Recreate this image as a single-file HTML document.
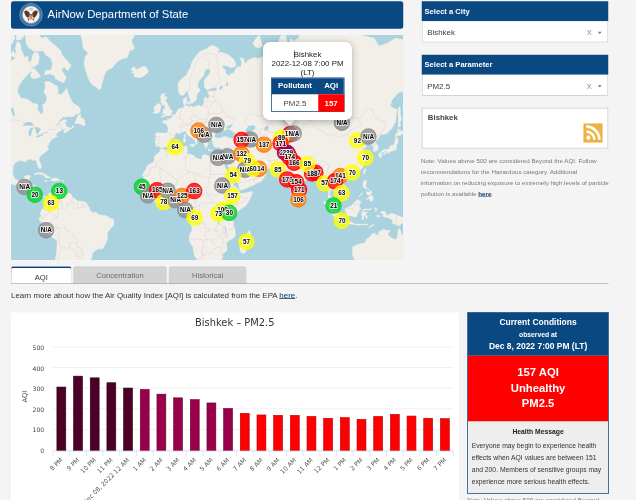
<!DOCTYPE html>
<html lang="en"><head><meta charset="utf-8"><title>AirNow Department of State</title>
<style>html,body{margin:0;padding:0}
html{overflow:hidden}
body{width:636px;height:500px;overflow:hidden;background:#f4f4f4;font-family:"Liberation Sans",Arial,sans-serif;position:relative;color:#333}
#sc{left:0;top:0;width:2544px;height:2000px;transform:scale(0.25);transform-origin:0 0;overflow:hidden}

#pg{left:0;top:0;width:2544px;height:2000px}
div,span,a{position:absolute;white-space:nowrap;box-sizing:border-box}
svg{position:absolute;display:block}
.blue{background:#0a4882;color:#fff}
#hdr{left:44px;top:4.8px;width:1569.2px;height:110.4px;border-radius:10px}
#hdr .seal{left:32.4px;top:6px}
#hdr .t{left:146.4px;top:-4.4px;line-height:109.6px;font-size:45.2px}
#mapbox{left:44px;top:140px;width:1569.2px;height:900px;overflow:hidden}
.map{left:0;top:0}
.sh{left:1686.8px;width:746.4px;height:80px;font-weight:bold;font-size:30.4px;line-height:76.8px;padding-left:11.2px}
.sel{left:1686.8px;width:746.4px;height:85.2px;background:#fff;border:3.2px solid #c4c4c4;border-top:none;border-radius:0 0 8px 8px;font-size:31.6px;line-height:89.6px;color:#3a3a3a;padding-left:19.2px}
.sel .x{left:657.6px;top:0;font-size:30.4px;color:#888}
.sel .c{left:701.2px;top:42.4px;width:0;height:0;border-left:8px solid transparent;border-right:8px solid transparent;border-top:9.6px solid #777}
#city{left:1686.8px;top:431.2px;width:746.4px;height:162.4px;background:#fff;border:3.2px solid #c8c8c8}
#city .n{left:21.6px;top:19.2px;font-size:31.2px;line-height:36px;font-weight:bold;color:#444}
#city .rss{left:643.2px;top:59.2px}
#note{left:1683.6px;top:619.2px;font-size:24.88px;line-height:44.2px;color:#777;white-space:pre}
#note b, a.l{position:static;color:#0a3a6a;text-decoration:underline;font-weight:bold}
.tab{top:1064.8px;height:70.4px;font-size:30.4px;line-height:70.4px;text-align:center;border-radius:10px 10px 0 0}
#t1{left:44px;width:242.4px;background:#fff;border:2.4px solid #888;border-bottom:none;border-top:7.6px solid #0a4078;color:#333}
#t2{left:292.8px;width:374.4px;background:#d3d3d3;color:#6a6a6a}
#t3{left:675.2px;width:310.8px;background:#d3d3d3;color:#6a6a6a}
#tl{left:44px;top:1133.6px;width:2390px;height:2.8px;background:#8a8a8a}
#learn{left:44px;top:1147.6px;font-size:31.64px;line-height:64px;color:#333}
#learn a{position:static;color:#0a3a6a;text-decoration:underline}
.chart{left:44px;top:1248.8px}
#cc{left:1869.2px;top:1248.4px;width:566px;height:727.2px;background:#eee;border:3.2px solid #0a4882}
#cc .h{left:0;top:0;width:100%;height:171.2px;text-align:center;font-weight:bold}
#cc .h span{left:0;width:100%}
#cc .r{left:0;top:171.2px;width:100%;height:262.4px;background:#ff0000;color:#fff;text-align:center;font-weight:bold;font-size:45.2px}
#cc .r span{left:0;width:100%;line-height:64px}
#cc .hm{left:0;top:453.6px;width:100%;text-align:center;font-weight:bold;font-size:27.12px;line-height:40px;color:#222}
#cc .tx{left:14.4px;top:505.6px;font-size:27.12px;line-height:48.4px;color:#333;white-space:pre}
#note2{left:1869.2px;top:1975.6px;font-size:24.88px;line-height:44px;color:#777}

#pop{left:1008px;top:28px;width:356px;height:364px}
#pop .pb{left:0;top:0;width:356px;height:312px;background:#fff;border-radius:27.2px;box-shadow:0 6px 28px rgba(0,0,0,.28)}
#pop .pt{left:88px;top:288px;width:38.4px;height:38.4px;background:#fff;transform:rotate(45deg);box-shadow:0 6px 28px rgba(0,0,0,.4)}
#pop span{left:0;width:356px;text-align:center;font-size:31.6px;line-height:36px;color:#222}
#pop .cur{position:absolute;left:124.8px;top:34.4px;width:2.4px;height:32.8px;background:#111}
#pop .p1{top:31.2px}#pop .p2{top:68px}#pop .p3{top:101.2px}
#pop .tb{left:32px;top:142.4px;width:293.6px;height:136.8px;border:3.2px solid #0a4882;background:#fff}
#pop .tb div{font-size:31.6px;text-align:center}
#pop .th0{left:0;top:0;width:100%;height:64px}
#pop .th1{left:0;top:0;width:185.6px;height:64px;line-height:57.6px;font-weight:bold;color:#fff}
#pop .th2{left:185.6px;top:0;width:104px;height:64px;line-height:57.6px;font-weight:bold;color:#fff}
#pop .td1{left:0;top:64px;width:185.6px;height:69.6px;line-height:69.6px;color:#444}
#pop .td2{left:185.6px;top:64px;width:104px;height:69.6px;line-height:69.6px;background:#ff0000;color:#fff;font-weight:bold}
</style></head><body><div id="sc"><div id="pg">
<div id="hdr" class="blue"><svg class="seal" width="96" height="96" viewBox="-12 -12 24 24">
<circle r="11.3" fill="#3a6c9c" stroke="#6f9cc4" stroke-width="0.8"/>
<circle r="9.1" fill="none" stroke="#7aa3c8" stroke-width="0.7"/>
<circle r="8.5" fill="#f6f2ec"/>
<path d="M-1.2,-1.5C-3,-4.5 -5.5,-5 -6.8,-3.2C-6.5,-0.5 -5.2,2 -3,3.2L-1.4,1.2Z M1.2,-1.5C3,-4.5 5.5,-5 6.8,-3.2C6.5,-0.5 5.2,2 3,3.2L1.4,1.2Z" fill="#5b3a1e"/>
<path d="M-1.6,-0.5h3.2v3.2c0,1.2 -0.8,2 -1.6,2.4c-0.8,-0.4 -1.6,-1.2 -1.6,-2.4Z" fill="#d98b7a"/>
<path d="M-1.6,-0.5h3.2v1.1h-3.2Z" fill="#3a5a8c"/>
<path d="M-3.4,3.4L-1.2,4.2L-2.6,6.2Z M3.4,3.4L1.2,4.2L2.6,6.2Z" fill="#7a5a3a"/>
<ellipse cx="0" cy="-3" rx="1.3" ry="1.5" fill="#fff"/>
<ellipse cx="0" cy="-5.6" rx="2.4" ry="1.5" fill="#c9cfd8"/>
</svg><span class="t">AirNow Department of State</span></div>
<div id="mapbox"><svg class="map" width="1569.2" height="900" viewBox="0 0 392.3 225">
<defs><filter id="bl" x="-5%" y="-5%" width="110%" height="110%"><feGaussianBlur stdDeviation="0.45"/></filter><filter id="bl2" x="-5%" y="-5%" width="110%" height="110%"><feGaussianBlur stdDeviation="0.4"/></filter></defs>
<rect width="392.3" height="225" fill="#aad3df"/>
<g filter="url(#bl)">
<path d="M-50.0,69.4L-42.0,47.7L-25.9,22.6L-17.9,24.8L-14.7,23.5L-9.8,22.2L-5.0,25.6L1.4,25.6L3.8,23.5L5.4,18.1L4.1,13.4L6.2,6.4L9.5,8.5L10.3,15.8L11.9,18.1L13.5,22.6L16.7,20.9L17.5,26.9L19.9,26.9L21.5,20.4L23.9,16.7L27.1,18.1L28.3,22.6L27.1,29.0L23.1,31.8L20.7,32.2L19.1,36.9L15.9,40.6L13.2,43.2L11.1,46.0L7.8,51.1L6.7,54.4L7.0,58.2L10.3,63.6L14.3,63.6L17.5,65.1L22.3,68.5L26.7,69.1L26.8,74.8L28.8,77.5L29.6,79.3L31.2,78.8L32.3,76.2L32.0,72.1L31.2,70.2L34.4,67.9L36.0,63.6L34.4,59.1L32.8,57.5L34.4,52.7L33.6,46.7L37.6,46.7L40.8,47.7L43.2,50.1L46.4,51.1L47.2,56.0L46.4,58.5L50.5,59.7L53.7,56.0L55.3,53.1L57.7,59.1L60.1,65.1L62.5,68.5L66.5,70.8L69.3,73.5L69.4,76.9L67.7,78.8L64.9,79.3L62.5,81.8L57.7,81.8L52.1,82.1L48.9,85.1L46.4,88.7L44.5,90.3L46.4,89.9L49.7,86.3L52.9,84.6L55.3,85.1L55.6,86.8L53.7,87.5L54.8,89.2L55.3,91.5L56.9,92.2L59.3,92.7L60.9,93.1L62.0,89.9L62.8,92.2L60.4,93.8L57.7,95.2L55.3,97.2L52.9,97.9L52.9,95.6L55.3,93.8L53.7,93.8L51.3,94.5L49.7,95.9L46.4,97.4L45.2,99.4L45.5,101.2L46.4,101.6L44.0,102.4L40.8,103.3L43.2,103.5L40.0,104.4L39.7,106.5L38.4,107.7L37.6,106.7L38.1,108.9L36.8,111.2L36.3,108.5L36.0,111.0L36.8,112.0L37.4,114.6L36.0,115.9L33.9,117.5L32.0,118.7L29.6,120.8L28.3,122.8L28.1,124.7L29.4,128.0L30.4,130.9L29.9,133.6L28.6,134.0L27.5,132.2L26.0,129.1L26.0,126.9L24.2,125.1L22.3,125.6L20.7,124.3L17.5,124.5L15.4,124.7L15.4,126.8L13.5,126.6L11.1,125.8L7.8,125.8L5.8,127.1L3.0,129.1L2.5,132.4L1.9,135.9L1.7,138.9L2.7,141.5L4.1,144.1L6.2,145.3L7.8,145.9L11.1,145.3L13.2,144.1L13.6,141.5L15.9,140.5L18.6,140.3L19.4,141.1L18.3,143.7L17.8,145.8L17.2,147.1L16.2,149.6L17.5,150.0L20.7,149.8L23.1,150.0L25.1,151.3L24.7,154.6L24.4,157.1L24.7,158.7L26.3,160.7L27.9,161.5L30.4,160.8L32.0,160.4L34.4,161.7L35.2,162.8L34.4,163.6L33.1,162.3L31.2,161.3L29.9,162.5L29.9,163.8L27.9,163.3L25.9,162.5L24.4,161.8L22.3,159.5L21.0,158.1L19.1,155.4L18.0,154.3L15.1,153.8L11.9,153.0L9.5,150.5L7.0,149.3L4.6,150.1L1.4,149.3L-1.8,148.0L-5.0,146.3L-8.2,144.6L-10.6,142.0L-17.9,137.7L-25.9,125.1L-34.0,115.6L-42.0,87.5Z M88.2,54.7L85.0,51.8L81.0,49.4L78.6,46.0L76.2,40.6L74.6,35.0L73.0,29.0L73.8,22.6L77.0,18.1L72.2,13.4L71.4,5.9L69.0,-2.2L65.7,-14.3L59.3,-18.9L49.7,-17.5L43.2,-31.9L52.9,-48.8L62.5,-69.4L86.6,-81.7L110.8,-88.6L126.8,-69.4L130.1,-48.8L128.4,-31.9L126.8,-17.5L126.8,-8.0L123.6,0.6L120.4,5.9L123.6,13.4L118.8,15.8L116.4,22.6L110.8,23.9L105.9,26.9L101.1,33.0L96.3,35.0L93.9,38.8L92.3,44.2L90.7,49.4L89.9,53.4Z M119.6,35.0L122.8,31.4L125.2,35.0L130.1,32.2L133.3,31.0L135.7,33.0L137.3,36.9L134.9,39.5L130.1,42.5L126.0,42.5L122.8,41.0L123.6,38.8L120.4,37.3L123.6,35.8Z M60.1,30.2L56.9,36.1L52.9,31.8L50.5,35.0L55.3,42.5L52.9,47.7L48.9,46.0L44.8,44.2L43.2,40.6L38.4,38.8L33.6,39.9L34.4,35.8L40.0,35.0L41.6,29.0L40.0,23.5L35.2,20.4L32.0,15.8L27.1,16.3L22.3,15.8L17.5,12.5L15.1,8.5L14.3,0.6L17.5,-3.9L22.3,-3.4L27.1,-3.4L30.4,3.3L35.2,1.7L40.0,7.5L44.8,11.0L49.7,15.8L51.3,20.4L56.1,25.6Z M19.1,35.0L23.1,33.0L27.9,38.8L29.6,41.7L25.5,43.2L21.5,43.5L19.1,40.6L20.7,37.7Z M5.4,4.9L9.5,4.9L13.5,0.6L14.3,-6.3L5.4,-6.3Z M-5.0,8.5L1.4,8.5L3.8,3.3L2.2,-3.9L-5.0,-3.9Z M-1.0,20.4L3.0,22.2L5.4,19.5L2.2,15.8Z M4.6,-8.7L30.4,-8.7L30.4,-20.9L4.6,-20.9Z M63.6,88.2L65.7,83.8L67.3,80.1L69.4,78.8L69.8,82.6L73.0,84.3L73.8,87.5L74.3,89.9L73.0,90.6L70.6,89.9L69.0,88.7Z M22.3,139.6L25.5,137.7L29.6,137.5L33.6,138.9L37.6,141.5L39.7,142.5L38.4,143.0L34.4,143.0L34.4,141.8L32.0,140.1L27.9,139.1L24.7,139.4Z M39.4,145.4L41.6,143.0L44.0,143.0L46.6,143.5L49.0,145.3L48.0,145.8L44.8,145.9L43.7,146.6L42.4,145.9Z M33.1,145.8L35.2,145.4L36.5,146.3L34.9,146.6Z M50.9,145.4L53.5,145.6L53.2,146.3L50.9,146.3Z M34.7,162.0L35.5,162.8L36.8,160.7L37.6,158.7L38.7,157.9L40.8,157.4L42.7,156.4L44.0,155.6L44.3,157.1L43.4,157.9L44.0,159.5L44.8,160.4L44.8,157.9L46.4,157.1L46.4,155.9L48.9,157.4L49.7,158.7L52.9,158.6L55.3,159.2L57.7,158.4L59.3,158.6L60.9,159.9L60.9,162.0L63.3,162.8L64.9,164.7L67.3,166.2L70.6,166.2L73.8,166.8L75.9,168.5L77.0,170.9L78.6,172.8L78.6,174.9L80.2,176.0L81.3,177.8L85.0,177.3L87.4,179.4L91.5,180.2L94.7,180.4L97.1,181.7L99.5,183.4L102.2,184.1L102.9,187.0L102.7,190.2L100.3,192.7L98.7,195.1L96.8,196.8L96.3,200.1L96.3,204.3L95.0,207.7L93.4,211.1L91.5,213.7L88.2,213.7L84.5,215.5L81.8,218.1L80.9,220.8L80.5,223.5L78.6,226.3L76.2,229.7L73.8,233.3L72.2,235.1L67.3,237.8L54.5,250.2L43.2,250.2L44.0,232.0L44.0,226.3L45.6,217.2L46.1,208.5L45.8,205.6L43.2,203.4L38.4,200.9L36.3,198.1L34.9,195.1L32.8,191.0L30.7,187.0L28.4,185.4L28.3,182.9L29.9,181.2L30.4,179.7L28.9,179.2L29.6,177.3L30.4,174.9L32.0,173.8L32.8,171.7L34.4,169.6L34.5,166.8L34.4,164.4L33.7,163.9Z M149.5,114.0L150.5,113.8L154.2,115.0L155.8,115.4L159.0,114.0L161.4,112.6L163.8,112.0L167.0,112.0L170.3,111.6L173.5,111.2L175.4,111.2L176.7,111.6L176.0,112.8L175.9,114.6L176.7,116.5L175.4,117.5L176.4,118.3L177.5,119.0L179.9,119.6L183.1,120.6L183.9,122.3L187.1,123.4L189.6,124.5L191.2,123.2L191.2,120.8L193.6,119.6L196.0,120.2L199.2,121.9L202.4,122.7L205.6,123.4L208.0,122.5L210.5,122.7L211.3,123.2L211.3,125.1L211.4,126.0L212.1,128.2L213.4,130.2L214.5,132.7L216.1,135.9L216.4,137.7L218.2,139.4L218.8,141.1L219.0,144.6L220.9,146.3L222.2,149.6L223.3,151.3L225.2,152.1L227.3,154.6L228.6,155.4L228.5,157.1L229.8,158.7L233.0,158.2L236.2,157.6L239.4,156.8L241.5,156.4L241.2,158.7L240.2,161.2L238.6,164.4L237.0,167.6L234.6,170.9L232.2,172.5L229.8,174.1L227.3,176.5L225.7,178.6L223.6,180.5L222.5,182.9L221.7,185.4L222.5,187.8L222.5,191.0L224.1,193.5L224.1,196.8L224.6,200.1L223.3,202.3L220.9,204.0L218.5,205.1L216.9,206.8L215.0,208.5L215.8,212.0L216.1,215.5L212.9,217.8L211.7,219.0L211.9,221.7L211.1,224.1L208.8,226.3L207.2,229.1L204.8,231.6L202.4,233.3L200.3,233.9L195.2,234.1L191.2,235.5L188.7,234.3L188.4,231.6L188.3,229.7L186.8,227.2L185.5,223.7L183.4,220.8L182.3,215.5L182.3,212.8L180.7,210.3L178.3,206.0L178.0,203.4L178.6,200.1L180.7,196.0L181.2,193.5L179.9,190.2L178.8,185.4L178.3,183.8L176.7,181.8L174.0,178.9L173.2,176.8L174.3,174.9L174.6,172.5L174.8,170.1L173.3,168.5L170.3,168.6L168.6,168.8L167.0,166.4L166.2,165.5L163.0,165.5L160.6,166.2L157.4,167.3L155.8,168.0L154.2,167.5L151.8,167.3L149.4,168.0L146.9,168.6L144.5,167.6L141.6,165.4L140.5,164.4L138.9,163.6L137.8,162.0L137.0,160.4L135.4,158.7L134.9,157.9L133.3,156.3L132.1,155.4L132.0,153.8L130.9,151.8L132.5,149.6L132.8,147.1L133.3,144.6L132.5,143.7L133.0,142.0L131.7,141.1L131.8,139.4L133.3,136.5L134.9,134.2L135.7,132.0L137.6,129.3L139.7,128.8L142.1,126.9L143.4,125.1L143.2,122.3L144.5,120.0L146.9,118.3L148.5,116.9Z M238.3,195.1L240.2,200.9L239.1,203.4L238.3,206.0L237.0,210.3L235.4,215.5L234.6,217.6L231.8,218.3L229.8,217.2L228.6,212.8L230.2,208.5L229.8,204.3L231.4,201.8L233.8,200.9L235.9,199.3L237.0,197.3Z M211.3,123.2L214.0,122.7L214.8,121.3L215.3,119.4L216.2,116.5L216.7,114.6L217.2,112.4L216.1,112.4L214.5,112.2L212.9,113.4L210.5,113.4L208.2,113.0L207.9,112.0L205.6,112.6L204.0,112.2L202.9,111.6L202.4,109.6L201.3,108.5L202.1,106.9L201.1,106.5L201.1,105.0L200.8,103.9L199.2,103.5L197.6,103.9L197.3,105.4L196.0,104.8L195.5,104.4L195.5,106.5L196.3,107.5L197.6,109.1L196.8,110.0L196.0,110.8L196.3,112.6L195.2,112.6L193.9,112.0L193.3,110.0L192.8,108.5L192.0,106.5L190.4,104.4L190.4,101.8L188.7,100.1L186.3,98.5L183.9,96.8L182.3,94.0L181.0,94.3L180.9,92.9L179.1,93.6L178.8,95.6L180.7,97.6L181.5,100.1L183.9,101.2L184.7,101.8L187.9,104.1L188.7,105.2L187.9,105.6L186.3,104.4L185.5,106.0L186.5,107.5L185.5,108.7L184.7,109.8L184.2,109.1L184.7,107.5L183.9,105.4L182.3,103.9L180.7,102.7L178.8,101.6L176.7,100.1L175.6,97.9L174.8,96.5L173.2,95.9L171.9,97.0L170.7,97.4L168.6,98.7L167.0,98.1L165.4,97.9L164.1,98.7L164.1,101.2L162.5,102.4L160.3,103.7L158.7,106.0L159.2,107.9L158.2,108.9L157.7,110.4L155.8,112.0L151.8,112.2L150.5,113.4L148.9,112.2L147.7,111.2L144.8,111.6L144.8,108.5L143.9,107.9L144.8,104.4L144.8,101.2L144.2,99.0L146.1,97.4L149.4,97.9L152.6,98.1L155.8,98.1L156.9,95.6L157.2,92.9L155.8,89.9L154.2,88.4L151.8,87.7L151.4,86.3L154.2,85.5L156.4,86.0L156.6,83.6L158.5,84.3L159.3,83.6L161.4,82.1L161.9,80.1L164.3,79.0L165.8,76.9L166.7,74.8L168.6,73.8L170.6,73.2L172.7,72.7L173.2,70.8L172.3,67.9L172.2,64.5L174.3,63.0L175.9,61.5L175.6,65.1L176.4,66.5L175.1,68.5L174.8,69.9L176.4,71.3L176.7,72.1L178.3,71.6L180.7,71.0L182.0,72.1L184.7,71.3L187.9,69.9L189.2,71.0L190.8,71.0L192.8,68.8L192.8,64.2L194.4,61.8L196.8,63.6L198.1,63.0L198.1,59.7L196.8,58.2L196.8,56.6L199.2,56.0L204.0,56.0L206.4,54.4L204.8,52.7L200.8,53.1L197.6,54.4L195.7,54.7L193.6,52.4L193.3,48.4L193.3,45.0L195.2,42.5L198.4,38.8L199.7,35.8L197.6,33.8L194.7,34.2L193.6,36.9L192.8,40.6L190.4,43.2L187.9,46.0L186.8,49.4L186.7,52.1L189.2,54.4L188.3,56.6L185.9,59.1L185.5,63.6L184.7,65.9L182.3,66.5L181.8,68.2L179.9,68.2L179.6,65.9L178.3,62.7L177.2,59.1L176.7,57.5L175.9,56.0L174.3,57.5L172.7,60.0L170.3,60.6L168.2,58.5L167.4,54.4L167.0,49.4L167.8,46.7L170.3,44.2L172.7,42.1L175.1,40.6L176.7,36.9L179.1,33.0L180.7,27.8L183.1,23.5L185.5,20.4L188.7,16.7L192.0,15.3L196.0,13.4L200.3,10.5L204.0,11.0L207.2,13.4L208.8,14.9L205.6,16.7L208.8,17.2L212.1,18.1L216.9,19.5L223.3,24.8L224.9,29.0L224.1,31.8L220.1,32.6L215.3,31.0L212.1,30.2L211.3,32.2L214.5,35.0L215.0,38.8L218.5,41.0L219.3,38.8L222.5,38.4L224.1,35.0L226.5,31.4L229.8,32.2L230.6,26.9L228.9,22.6L233.0,23.9L233.8,29.0L236.2,26.1L239.4,23.9L244.2,22.6L246.6,23.5L250.7,22.2L255.5,21.7L257.1,16.7L261.9,19.1L266.7,21.3L269.1,23.5L270.0,20.4L266.7,15.8L266.7,8.5L270.0,0.6L274.8,0.6L276.4,8.5L275.9,15.8L275.6,22.6L277.2,26.9L274.8,31.8L278.0,29.8L279.6,24.8L278.0,20.4L277.5,11.0L279.6,3.3L282.8,5.9L287.6,3.3L289.2,-2.8L297.3,-5.1L303.7,-14.3L319.8,-20.9L327.8,-28.1L340.7,-17.5L335.9,-5.1L340.7,-3.4L352.0,0.6L363.2,3.3L368.0,11.0L376.1,8.5L384.1,3.3L400.2,5.9L424.3,33.0L416.3,54.4L408.2,56.6L399.4,56.6L392.2,56.6L387.3,57.5L384.1,61.5L380.9,65.1L379.3,71.3L381.7,72.7L384.1,74.0L386.2,74.8L385.7,77.5L384.9,81.3L384.9,86.3L382.5,89.9L380.9,93.4L378.5,96.1L376.1,98.3L372.9,99.6L370.5,99.0L369.2,100.5L367.7,102.2L367.2,103.9L364.8,105.4L364.0,106.9L365.6,108.9L367.1,111.6L367.2,114.0L366.4,115.4L364.5,115.9L362.4,116.7L362.3,114.6L362.6,112.0L361.6,110.2L360.0,110.0L360.3,108.1L359.2,105.8L356.8,106.0L354.4,107.7L355.2,104.6L353.6,103.5L351.2,105.8L348.7,107.1L348.3,108.5L350.4,111.0L353.2,110.0L356.0,110.8L355.2,112.0L352.8,113.2L350.8,115.6L352.4,117.5L353.6,120.4L355.0,122.3L354.1,124.2L355.2,125.1L354.5,127.9L352.8,130.2L351.3,132.9L349.5,134.9L347.6,136.6L345.5,137.9L342.8,138.7L341.5,139.1L339.1,139.9L336.7,140.6L336.4,142.4L335.6,140.3L333.5,139.9L331.1,141.1L329.4,143.7L329.0,145.4L331.1,148.0L333.1,149.6L334.6,153.0L334.8,155.4L334.3,157.1L331.9,158.7L330.7,159.5L330.3,160.7L327.8,161.7L327.5,159.5L326.2,158.7L324.6,157.4L323.5,155.8L321.4,155.1L321.2,154.0L319.8,154.0L319.8,156.3L318.7,158.7L319.0,160.7L320.3,162.3L321.4,164.6L323.0,165.7L324.6,167.6L325.4,169.3L325.4,171.4L326.6,173.4L325.4,173.6L323.8,172.3L321.9,171.0L320.8,169.3L320.3,166.8L319.3,164.7L317.7,162.8L317.1,161.2L317.5,158.7L317.4,156.3L316.6,153.0L316.1,150.5L315.8,148.6L314.2,148.5L312.2,150.0L310.6,149.3L311.0,146.3L309.7,143.7L307.7,141.7L306.9,139.4L306.1,138.2L304.5,139.1L302.9,139.8L301.3,139.9L298.9,140.5L298.6,142.0L296.5,143.4L294.9,144.9L292.5,147.1L291.2,148.6L289.2,149.6L288.1,150.5L287.8,153.8L287.5,156.3L287.3,159.0L286.0,160.7L284.9,161.2L283.6,162.6L282.0,161.2L281.2,158.7L279.9,156.3L279.1,153.8L278.5,151.3L277.2,148.8L276.4,146.3L276.1,143.7L276.1,141.1L275.1,140.8L273.2,141.5L270.8,139.4L272.0,137.7L269.1,136.8L267.5,135.0L266.3,133.8L261.9,133.6L257.9,133.8L253.9,133.4L251.1,132.7L250.3,130.6L247.4,131.1L245.0,130.9L241.8,129.0L240.2,126.4L238.6,124.7L237.0,125.1L236.2,126.0L237.0,127.9L238.1,129.7L239.4,131.1L239.7,132.9L240.7,134.2L241.3,132.4L242.0,133.8L241.5,135.4L243.4,135.6L245.8,135.6L248.2,133.6L249.5,131.8L249.9,134.2L250.7,135.9L253.1,136.5L255.2,138.6L254.7,140.3L253.1,142.0L251.9,144.6L250.7,146.3L248.2,147.4L245.8,148.0L242.9,150.0L239.4,151.3L236.2,153.0L233.0,154.0L231.4,154.9L228.9,155.1L228.5,154.1L227.8,151.6L227.7,149.0L225.7,146.3L224.1,143.7L222.0,141.1L221.4,138.6L219.3,135.6L218.5,133.3L216.9,131.1L215.3,128.8L215.0,126.0L214.2,129.1L212.9,127.9L212.1,126.4L211.4,125.1Z M149.8,82.3L152.6,81.8L154.2,80.8L157.4,80.8L160.6,80.1L161.3,79.3L160.1,78.8L161.7,75.9L159.5,74.8L159.0,73.2L157.1,70.5L156.4,67.9L155.0,66.5L153.9,66.5L155.8,63.6L155.8,61.5L152.6,61.8L154.2,58.8L151.0,58.8L149.4,62.1L150.2,65.1L149.4,66.5L151.0,68.5L151.3,70.2L153.7,69.6L154.2,72.7L154.0,74.0L151.8,74.0L152.2,76.7L150.6,78.0L153.4,78.8L154.2,79.5L151.8,80.1Z M142.9,78.5L146.1,78.3L148.9,76.9L149.4,74.0L150.2,70.8L148.5,68.8L146.1,68.8L145.3,71.0L142.9,71.6L143.2,74.0L144.0,75.9L142.4,77.5Z M176.7,67.4L179.1,66.5L179.1,68.5L178.0,69.9L176.7,68.8Z M241.8,8.5L244.2,12.0L248.2,13.0L251.5,11.0L249.0,3.3L249.0,-5.1L253.9,-14.3L263.5,-20.9L268.3,-24.4L265.1,-17.5L257.1,-11.1L252.3,-2.2L248.2,0.6L245.0,3.3Z M179.1,109.6L183.9,109.1L183.4,111.6L182.0,112.0L179.1,110.4Z M172.2,103.3L174.6,103.3L174.4,107.1L172.7,107.5Z M172.8,100.1L174.3,99.0L174.3,102.2L173.2,102.2Z M196.8,114.4L201.3,115.0L201.1,115.6L197.6,115.7Z M210.9,115.6L212.1,114.8L214.5,114.4L213.7,115.6L212.1,116.3Z M369.5,117.5L370.5,116.1L372.9,114.6L376.9,114.4L378.8,112.0L379.8,110.6L381.7,110.8L383.3,108.5L384.1,105.4L384.6,102.9L386.4,102.4L387.2,105.4L386.9,107.9L385.7,109.6L385.7,111.6L385.2,113.6L384.6,115.2L383.8,115.6L383.6,114.6L382.2,116.1L380.1,116.3L379.0,116.9L377.4,118.5L376.2,116.9L374.5,116.3L372.1,117.1L369.6,117.7Z M367.6,118.9L369.5,117.7L370.8,119.0L370.5,121.7L369.2,123.0L368.4,121.3Z M372.1,118.5L374.5,116.9L375.6,117.9L374.0,118.9L372.9,119.8Z M384.1,102.2L384.6,98.5L386.5,98.3L387.0,93.6L388.9,95.6L392.6,96.3L393.0,98.3L389.7,99.2L389.3,101.2L386.5,100.1L385.7,101.6Z M387.3,92.2L389.7,91.0L388.9,87.5L390.6,83.8L389.3,80.1L389.4,74.8L388.5,71.3L387.3,73.5L387.0,78.8L387.3,83.8L387.3,87.5Z M352.1,137.7L353.6,133.8L355.0,134.2L354.4,136.8L353.2,139.4Z M333.8,144.1L335.9,142.7L337.5,143.4L336.4,145.4L334.3,145.8Z M287.3,160.2L289.2,161.5L290.5,163.6L290.1,165.4L288.1,166.0L287.3,164.4Z M352.8,145.4L355.5,145.4L355.2,148.8L354.4,151.3L356.0,153.0L358.4,154.6L357.6,155.1L356.0,153.5L353.6,153.5L352.8,152.1L352.0,151.3L352.0,149.3Z M355.2,164.4L357.6,162.0L360.8,160.0L362.4,162.8L361.9,165.2L360.8,166.5L359.2,165.7L358.4,163.6Z M355.2,156.6L357.6,157.1L360.0,155.4L360.8,157.9L360.0,159.5L357.6,160.4L356.0,159.5Z M347.5,162.0L351.2,158.7L351.5,157.4L349.5,159.5Z M312.2,166.7L315.8,167.3L318.2,169.7L320.6,172.2L323.0,174.1L325.4,175.7L326.2,177.6L327.8,179.7L329.4,181.0L329.1,185.0L327.0,185.0L323.8,182.6L321.4,179.7L319.8,177.3L318.2,174.9L316.6,172.0L314.2,169.6Z M328.2,186.7L330.3,185.4L333.5,186.5L336.7,186.7L338.3,186.5L340.7,187.0L343.1,188.3L343.1,189.6L339.1,189.1L334.3,188.3L331.9,188.1L330.1,187.6Z M334.3,173.3L335.9,173.0L338.0,171.7L340.7,170.4L343.1,168.1L345.5,165.2L347.1,164.4L348.3,166.0L350.4,167.3L348.7,168.8L348.3,170.9L348.7,172.5L350.4,174.1L348.4,174.6L347.9,177.0L346.3,178.1L346.0,180.5L345.5,182.1L343.1,182.1L340.7,181.0L338.3,180.8L336.2,180.2L335.9,178.1L334.3,176.2Z M351.2,184.6L351.2,181.3L350.4,180.0L351.6,176.0L352.8,174.1L355.2,174.1L358.4,174.1L360.3,173.1L359.2,174.9L356.8,174.9L353.6,174.9L352.3,177.0L354.1,177.3L356.8,177.0L354.7,178.6L356.0,181.0L356.8,182.9L355.2,183.3L354.4,181.3L353.6,180.0L352.6,181.3L352.6,184.6Z M369.6,177.0L372.1,176.3L374.5,177.0L376.1,181.0L378.5,179.2L380.9,178.3L385.7,179.9L388.9,181.2L392.2,182.8L393.8,184.6L396.2,185.4L396.5,187.8L398.6,190.2L401.0,192.7L397.0,191.9L394.6,190.2L392.2,188.3L389.7,189.1L388.9,190.6L385.7,190.4L383.3,188.6L380.9,189.1L382.0,187.0L380.9,184.6L377.7,183.1L374.5,182.1L372.9,182.0L371.3,180.4L373.7,179.6L371.7,178.9L369.6,177.8Z M357.6,192.4L360.0,190.6L363.2,189.3L362.4,190.6L359.2,192.2Z M343.9,188.9L347.1,189.1L350.4,189.3L353.6,189.3L356.8,189.1L356.5,189.9L352.0,190.1L347.1,190.2L344.2,189.7Z M364.0,173.3L364.8,172.5L365.9,174.1L364.8,177.0L364.2,174.9Z M364.8,180.5L368.8,180.5L369.3,181.7L365.6,181.5Z M341.5,212.0L342.3,211.6L345.5,209.9L348.7,209.0L351.2,208.5L353.6,207.9L355.5,205.1L355.7,203.4L357.6,204.0L357.9,202.3L360.0,200.6L361.6,198.4L364.0,198.4L365.6,199.9L367.6,199.9L367.2,197.6L368.8,196.0L370.5,195.5L372.1,194.3L373.7,194.8L376.1,195.5L378.5,195.1L379.0,196.0L377.7,197.6L376.9,199.8L378.5,201.4L380.9,202.9L383.3,204.3L385.2,204.3L386.5,200.9L386.9,197.6L387.3,195.1L388.1,193.2L389.7,196.0L390.1,198.9L392.5,200.1L393.3,203.1L394.1,206.5L396.2,207.5L398.6,209.4L399.4,212.0L401.5,213.7L403.4,216.4L405.0,219.0L405.8,223.5L405.0,228.2L404.2,232.0L401.8,233.9L400.2,239.8L392.2,242.9L384.1,241.8L380.9,236.8L380.1,232.9L377.7,235.5L376.1,234.9L374.5,231.4L371.3,230.1L368.0,229.3L363.2,230.4L360.0,231.2L358.4,232.9L353.6,233.5L349.5,235.5L345.5,235.5L343.9,233.9L344.7,230.1L344.2,226.3L343.1,223.5L341.5,219.9L341.5,216.4Z" fill="#f2efe9" stroke="#f2efe9" stroke-width="0.4" stroke-linejoin="round"/>
<path d="M204.0,102.2L205.6,102.9L209.7,102.9L212.5,101.2L215.3,101.2L217.7,102.7L220.1,103.3L223.3,103.3L225.9,102.0L225.7,100.1L223.3,98.1L220.9,96.1L219.0,95.0L217.9,94.0L216.1,94.5L213.2,95.9L212.9,94.3L211.3,93.6L212.9,92.2L210.5,91.0L208.5,91.0L206.9,93.4L205.3,95.6L204.8,98.1L203.7,100.1Z M215.3,92.9L215.8,91.3L218.5,90.3L220.6,89.6L222.0,89.9L220.4,91.5L219.6,92.9L218.2,93.6L216.1,93.6Z M234.6,95.6L235.4,93.4L237.8,91.0L241.0,90.3L244.2,91.0L244.2,93.8L241.5,95.6L239.9,96.1L241.0,99.0L243.4,100.1L243.7,102.2L245.0,103.7L244.2,106.5L245.5,108.5L245.5,111.0L242.6,112.2L239.9,111.2L237.8,110.0L237.5,107.5L238.6,104.8L237.0,101.6L235.4,99.0Z M11.1,90.6L14.3,88.0L17.5,86.8L20.7,87.5L22.8,90.3L20.7,91.0L17.5,90.3L14.3,90.8Z M18.0,101.2L17.5,96.8L19.1,93.4L21.5,92.2L22.3,93.4L20.7,96.8L20.2,100.1L19.1,101.8Z M23.1,92.2L27.1,92.2L30.4,94.5L28.8,95.6L27.6,98.5L26.3,99.0L24.7,96.8L24.7,94.5L23.1,92.7Z M25.1,101.8L28.8,99.6L32.0,99.4L32.0,100.1L27.9,102.2L25.1,102.2Z M30.7,98.3L35.2,97.2L36.3,96.8L36.3,97.9L33.6,98.3L30.7,98.5Z M-0.2,72.7L2.2,72.7L4.1,80.1L3.0,81.8L0.6,77.5Z M210.1,177.3L211.3,175.4L213.7,175.4L214.0,177.3L212.9,179.7L210.5,179.7Z M206.0,181.2L206.9,182.9L208.5,189.1L207.7,189.4L206.1,185.4L205.6,182.1Z M213.7,191.0L214.6,193.5L215.3,198.4L214.5,198.8L214.0,195.1L213.4,191.9Z M253.1,95.0L253.9,92.2L256.3,90.6L257.6,92.2L257.1,94.5L255.5,96.1Z M325.9,78.8L327.8,78.5L332.7,74.0L335.6,67.9L334.3,67.4L331.1,72.7Z M208.0,54.4L209.7,50.4L211.7,51.1L211.3,53.7L209.7,54.7Z M214.5,51.1L216.1,46.7L217.2,48.4L216.6,51.1Z" fill="#aad3df"/>
<path d="M145.0,129.3L145.0,127.5L153.2,121.9L157.1,121.1L156.1,116.5L155.5,115.4 M131.7,141.1L138.1,140.6L138.1,137.7L139.7,136.8L139.7,132.4L145.0,132.4L145.0,129.3 M145.0,130.0L151.3,134.2L160.9,141.0L164.1,143.7L165.8,144.4L165.8,148.8L164.6,150.6L159.3,151.3L155.8,152.6L153.7,154.1L152.1,155.1L150.2,158.9L146.1,159.2L145.7,157.4L140.7,155.9L139.4,151.6L135.7,148.6L132.5,149.6 M151.3,134.2L148.5,134.2L150.0,148.8L150.5,150.5L144.0,150.5L140.5,150.3L139.4,151.6 M172.8,111.8L172.2,116.5L171.1,117.9L173.5,121.3L174.3,124.5L174.9,130.6L174.3,131.8L175.1,135.0L178.3,136.8 M177.5,119.0L175.6,121.9L174.3,124.5 M178.3,136.8L171.1,141.5L165.8,144.4 M178.3,136.8L181.8,138.4L183.1,137.7L197.6,143.7L197.6,142.9L199.2,142.9L199.2,139.4 M199.2,122.1L199.2,139.4L218.3,139.4 M183.1,137.7L183.9,141.1L183.9,148.3L180.7,152.1L180.9,153.5 M164.8,156.8L165.4,153.8L170.3,154.6L173.5,154.9L178.3,154.3L180.9,153.5L181.8,155.4 M197.6,143.7L197.6,150.1L195.2,153.0L194.9,155.1L195.8,157.9 M195.8,157.9L192.8,160.4L189.6,161.2L186.3,163.3L183.9,163.6 M181.8,155.4L183.1,159.5L181.5,159.5L183.9,163.6 M181.8,155.4L179.9,159.5L178.0,164.4L175.1,165.2L172.8,168.0 M174.8,172.0L180.4,172.2L184.7,173.0L185.0,172.2L183.9,163.6 M185.0,172.2L188.9,170.1L188.7,168.8L190.4,167.6L195.2,168.9L199.2,167.6L203.1,167.5 M195.8,157.9L197.1,161.7L199.2,163.3L203.1,167.5 M197.1,161.7L199.2,159.0L204.0,160.4L207.2,159.5L210.5,156.3L212.1,155.9L212.1,159.2L213.7,160.4 M221.1,146.3L218.5,148.0L217.7,151.3L217.5,152.1L217.0,155.1L215.3,157.9L214.2,158.7L213.7,160.4L213.5,162.1L212.1,162.8L213.7,164.4L215.3,166.8 M217.5,152.1L220.1,151.8L223.3,152.1L226.1,154.6L227.2,155.4 M227.2,155.4L228.0,157.9L228.1,160.4L231.4,162.0L234.6,162.8L236.2,162.8L231.4,167.6L228.1,168.5L226.5,169.3 M215.3,166.8L216.9,168.5L220.1,169.9L222.7,170.1L224.9,169.3L226.5,169.3L224.9,171.2L224.9,177.3L225.7,178.4 M215.3,166.8L213.7,168.9L212.1,169.6L208.8,169.7L208.5,170.1L203.1,167.5 M213.7,168.9L214.6,173.8L213.7,175.7L213.7,177.3L219.5,180.5L222.0,183.3 M208.5,170.1L208.8,172.0L206.8,174.4L206.6,178.0L208.0,177.3L208.5,179.6L207.9,182.6L206.3,182.9 M206.6,178.0L205.6,180.0L206.0,181.2 M208.5,189.1L211.7,190.7L213.7,191.0L214.6,194.3L219.3,194.6L224.0,192.7 M178.8,185.2L179.9,185.2L185.7,185.2L187.3,188.8L190.2,188.6L194.1,187.5L194.4,193.5L197.6,193.5L197.6,196.8L194.4,196.8 M197.6,193.5L199.7,194.5L202.4,195.1L204.7,196.0L206.9,197.4L206.9,195.5L204.7,194.8L205.0,191.0L208.5,189.1 M194.4,196.8L194.4,202.1L196.8,204.5L192.8,205.1L188.7,204.1L181.5,204.1L178.0,204.0 M192.8,205.1L192.8,212.0L191.2,212.0L191.2,216.9L191.2,223.4L187.1,223.9L185.5,223.7 M196.8,204.5L199.7,204.8L200.8,207.7L203.5,209.4L206.3,212.3L204.0,213.4L202.4,214.8L200.6,216.7L200.0,218.5L196.0,217.8L193.9,220.5L192.3,220.5L191.2,216.9 M199.7,204.8L202.4,205.0L205.3,202.6L207.9,201.1 M207.9,201.1L211.9,202.9L212.1,206.8L211.3,210.8L209.3,212.7L206.3,212.3 M209.3,212.7L210.5,216.4L210.5,220.5L211.9,220.5 M207.9,201.1L207.6,199.8L212.4,198.4L211.6,197.8L212.1,194.3L212.5,191.0 M214.6,194.3L215.3,196.8L216.7,199.9L216.6,201.8L215.6,203.4L214.3,202.3L214.5,199.3L212.4,198.4 M139.4,151.6L140.7,155.6L137.0,155.3L134.9,155.3L132.1,155.6 M137.6,161.2L142.4,162.0L142.4,159.5L146.1,159.2 M140.5,164.6L142.4,162.0 M146.9,168.6L145.7,165.2L145.7,163.4L146.1,159.2 M154.7,167.6L154.5,160.4L154.7,157.9 M160.9,165.9L159.8,162.8L159.0,157.9 M161.6,165.7L161.6,161.2L160.3,157.9 M163.3,165.4L163.5,161.2L164.8,156.8 M150.2,158.9L154.5,160.4L154.7,157.9L159.0,157.9L160.3,157.9L162.9,155.8L164.8,156.8 M162.9,155.8L159.3,151.3 M176.8,182.0L178.3,179.6L182.2,178.8L180.4,172.2 M178.6,185.0L179.9,183.1L182.2,183.4L184.6,182.1L185.0,178.9L187.6,176.5L188.9,170.1 M-38.8,85.1L5.9,85.1L6.9,85.8L15.1,87.5L23.1,91.0L26.3,93.8L26.5,99.0L25.4,101.2L32.0,100.1L32.0,98.3L36.0,96.8L38.9,94.5L44.0,94.5L46.0,91.5L47.7,88.9L50.0,89.9L50.0,92.9L51.3,94.7 M2.7,132.6L-1.0,129.7L-4.1,125.5L-9.0,126.0L-12.3,121.7 M10.7,152.1L10.7,150.8L11.5,149.5L13.6,149.5L12.7,147.6L12.7,146.6L15.6,146.6L15.6,149.8L16.0,149.8 M15.6,146.6L17.0,145.4 M15.4,152.3L17.8,154.0 M15.6,151.5L19.1,154.6L22.3,151.8L25.2,151.5 M21.2,157.7L23.9,158.2L24.4,158.1 M25.7,160.4L25.7,162.6 M44.3,156.6L42.4,159.5L42.6,162.8L46.4,164.4L50.5,165.7L50.0,169.3L51.3,173.8 M51.3,173.8L46.4,174.1L47.4,177.3L46.4,182.5L41.8,179.6L37.9,175.9L37.4,175.7L34.4,174.4L32.0,173.4 M37.9,175.9L37.6,178.1L33.6,181.0L32.0,183.8L29.9,182.8L29.9,181.2 M51.3,173.8L53.7,174.4L56.1,172.5L56.1,169.3L58.0,169.3L61.4,167.3L62.5,167.6L60.4,166.0L60.9,164.4L62.5,162.0 M62.5,167.6L62.8,173.4L65.7,173.3L68.1,172.5L71.4,172.0L74.6,172.0L75.9,168.9 M66.9,166.2L65.7,170.1L68.1,172.5 M72.2,166.4L71.4,172.0 M46.4,182.5L41.6,183.8L40.3,187.5L41.9,191.0L45.5,191.0L45.6,193.5L47.2,193.5 M47.2,193.5L48.5,196.1L48.0,200.1L47.2,204.3L45.8,205.6 M47.2,193.5L49.7,193.0L54.0,191.5L54.0,194.6L57.7,196.3L61.7,198.1L62.2,202.3L65.3,202.3L65.4,204.3L66.5,205.1L65.7,208.2L65.4,208.9 M47.2,204.3L48.5,207.7L49.7,212.0L50.9,213.4L52.9,211.6L55.6,213.4L58.2,212.3L59.3,208.5L62.8,207.3L65.4,208.9 M65.4,208.9L66.1,212.2L69.4,212.5L69.8,215.5L71.7,215.5L71.2,218.3 M58.2,212.3L62.5,215.5L66.4,218.0L64.8,221.2L69.0,221.4L71.2,218.3 M71.2,218.3L72.5,221.2L69.4,223.4L66.4,226.7L69.8,228.2L73.0,231.0L73.1,233.3 M66.4,226.7L65.4,231.0L65.1,233.9 M50.9,213.4L48.9,217.2L48.0,220.8L46.4,226.3L46.4,232.0 M144.8,101.4L148.5,101.6L147.9,105.4L147.3,109.6L147.1,111.2 M156.1,98.1L160.1,99.6L164.1,100.3 M171.1,97.2L170.3,93.4L169.9,92.2L168.8,91.7L171.2,88.4L172.2,85.1L169.3,83.8L168.3,83.8L165.8,82.6L163.0,79.8 M169.3,83.8L168.8,80.6L168.6,78.0L170.3,76.9L170.6,74.0 M182.0,72.1L182.6,76.2L183.1,80.1L178.6,81.8L181.2,85.8L179.9,88.7L174.4,88.7L171.2,88.4 M169.9,92.2L172.7,91.7L175.9,90.3L178.6,89.9L181.0,91.0L181.0,93.1 M172.8,69.6L174.9,69.9 M181.2,85.8L186.2,86.0L186.7,87.5L184.9,90.1L181.0,91.0 M186.2,86.0L189.2,83.8 M186.7,87.5L189.2,88.0L194.7,86.5 M184.9,90.1L187.1,92.4L189.4,92.4L191.6,92.0 M190.7,71.0L195.7,71.0L196.8,72.1L197.4,75.6L196.9,78.8L197.8,80.6L195.3,84.8 M183.1,80.1L186.2,81.6L189.2,83.8L195.3,84.8 M196.9,78.8L202.4,78.3L208.2,79.3L210.1,77.2L213.4,76.4L216.1,81.6L220.1,82.8L223.3,83.6L223.0,87.5L220.6,89.4 M210.1,77.2L211.6,73.8L208.5,67.7L204.3,66.2L201.8,67.4L200.2,71.3L196.8,72.1 M192.8,66.2L199.2,65.7L201.8,67.4 M198.1,60.9L202.9,62.1L204.3,66.2 M202.9,62.1L203.7,56.3 M203.7,52.7L207.2,48.4L209.7,44.6L207.2,40.6L206.9,33.0L205.6,20.4 M177.0,57.5L179.1,52.7L178.6,44.2L182.3,35.0L185.5,26.9L192.0,20.4L193.6,19.1L200.0,18.1L205.6,20.4L208.7,17.2 M192.0,20.4L197.1,25.6L197.8,33.8 M195.3,84.8L194.7,86.5L198.4,87.7L201.8,86.8L204.3,91.0L204.3,93.4L206.6,93.8 M201.8,86.8L205.6,87.5L207.2,91.3 M205.0,97.4L202.4,96.5L195.5,96.3L193.4,95.0L191.6,92.0L194.7,86.5 M204.0,101.2L201.5,101.8L200.8,103.9 M201.5,101.8L195.8,102.7L192.8,103.5L191.2,106.0 M195.5,96.3L195.0,100.5L195.8,102.7 M190.2,101.4L192.0,99.2L189.6,94.7L184.7,94.0L181.0,93.1 M189.6,94.7L190.2,96.3L190.5,98.5L188.7,100.1 M192.0,99.2L193.7,100.7L195.0,100.5 M216.9,113.2L220.1,112.0L227.0,111.2L231.0,111.2L230.1,106.7L231.0,106.0L229.1,103.1L225.7,102.2 M223.3,98.1L228.9,99.6L233.8,101.6L237.0,101.6 M229.1,103.1L231.4,102.9L233.8,101.6 M231.4,102.9L233.8,107.7 M231.0,106.0L233.8,107.7L236.2,106.0L237.6,108.7 M231.0,111.2L233.0,114.0L232.2,117.5L235.7,121.7L237.0,125.1 M227.0,111.2L225.2,115.9L221.4,118.7L218.2,120.8L216.2,120.0 M216.2,118.9L217.7,116.5L216.7,113.8 M216.2,120.0L216.1,122.3L215.3,126.0 M214.0,122.7L215.1,126.0 M221.4,118.7L222.0,121.0L224.0,121.5L226.7,123.0L230.9,126.6L233.8,126.8L235.7,125.1 M222.0,121.0L218.5,122.3L220.1,124.2L219.3,125.1L217.0,126.6L215.3,126.2 M233.8,126.8L235.4,127.9L236.8,127.9 M227.8,149.0L228.5,147.1L231.7,147.3L234.1,147.4L236.5,145.9L242.6,144.6L247.4,142.9L248.4,139.4L247.8,138.2L243.6,137.9L242.0,135.6 M242.6,144.6L244.4,148.6 M247.8,138.2L249.0,135.9L249.5,134.2 M245.7,111.0L249.0,109.6L253.1,110.2L257.4,112.4L256.4,116.9L257.1,122.3L258.4,123.2L256.9,125.5L259.5,126.2L260.8,130.2L258.1,133.8 M256.9,125.5L265.6,125.3L270.4,121.5L271.6,118.1L273.3,117.3L274.1,112.8L278.8,111.6 M257.4,112.4L262.7,113.0L265.9,110.8L268.3,111.6L270.8,110.4L274.0,109.8L274.1,112.2L278.8,111.6L279.4,111.0 M265.9,110.8L261.9,107.5L258.7,102.9L255.5,100.7L253.1,99.6L250.7,102.7L249.0,102.7L249.0,94.5L253.1,93.4L257.1,95.9L263.4,97.4L265.1,100.3L268.3,103.3L272.4,101.2L273.2,100.5 M247.0,101.2L244.2,100.7L243.4,101.8 M273.2,100.5L277.2,99.0L280.4,99.4L286.0,99.2L288.0,101.2L288.1,94.5L291.7,93.4L292.5,89.4L296.5,89.6L299.4,84.6 M299.4,84.6L292.5,80.1L287.6,80.6L284.1,74.0L278.0,72.7L273.2,71.6L270.0,68.5L257.1,72.1L257.9,80.1L253.1,80.1L247.4,81.1L241.0,78.3L237.0,82.6L234.6,85.1L233.8,86.5L236.2,89.9L237.8,91.0 M288.0,101.2L281.2,104.6L277.7,106.5L279.4,111.0 M273.2,100.5L272.4,103.3L270.0,105.0L272.4,106.2L277.7,106.5 M270.0,105.0L268.0,106.5L268.3,111.6 M299.4,84.6L300.5,86.3L305.0,94.0L312.6,96.3L314.2,99.6L321.4,99.8L327.8,102.0L335.9,99.6L339.1,97.2L338.9,94.5L344.7,93.4L346.5,91.5L351.6,90.6L348.4,87.5L346.7,83.1 M299.4,84.6L306.9,80.6L316.6,82.6L317.1,77.5L323.3,79.3L323.5,81.3L330.3,81.8L335.9,84.6L343.1,82.1L346.7,83.1 M346.7,83.1L350.8,82.1L353.2,75.9L357.6,73.5L361.6,74.8L364.0,82.6L368.8,85.5L375.6,86.8L373.0,94.5L370.0,97.9L369.0,100.3 M369.0,100.3L364.8,101.2L362.7,101.8L359.0,105.4 M361.8,110.0L365.5,108.3 M268.7,136.5L273.2,135.0L270.9,130.2L274.6,129.0L277.8,125.1L279.0,122.3L278.0,119.4L278.8,115.6L284.1,114.6 M279.4,111.0L284.1,114.6L286.0,119.4L285.5,122.3L289.2,124.7L287.8,127.3L292.5,129.7L297.0,131.3L300.7,131.7 M289.2,124.7L294.1,127.3L297.3,128.8L300.7,129.0L303.2,128.4L306.9,129.1L310.2,126.6L313.4,126.2L315.5,128.4 M300.7,129.0L300.7,131.7 M302.0,130.0L303.4,131.1L306.9,130.8L306.9,129.1 M300.7,131.7L302.0,132.0L303.4,132.4L303.4,133.6L307.4,134.2L307.3,135.4L305.6,135.9L306.0,137.5L307.4,136.5L307.9,140.6 M302.1,140.1L301.8,137.3L300.7,135.0L301.1,132.9L300.7,131.7 M315.5,128.4L312.1,131.5L310.5,135.9L309.0,135.9L308.5,139.4L307.9,140.6 M315.5,128.4L317.7,129.5L317.7,132.7L315.9,135.9L318.2,139.1L321.7,140.8L320.3,142.2L316.6,143.4L316.3,146.3L317.5,149.1L316.9,151.3L318.5,154.6L319.0,157.1L317.7,159.2 M321.7,140.8L323.3,138.7L324.6,138.6L328.3,137.2L330.6,138.0L332.7,140.3 M323.3,138.7L327.0,142.2L326.2,143.7L328.2,145.4L330.3,148.0L331.9,151.3L331.9,152.1 M320.3,142.2L321.7,147.1L323.2,145.9L326.2,145.8L327.5,147.3L327.5,149.1L328.8,150.1L328.8,152.3L329.4,152.5L331.9,152.1 M328.8,152.3L324.6,152.6L323.7,153.6L324.5,156.8 M331.9,152.1L331.9,155.8L329.4,156.8L329.4,157.9L327.8,158.1L326.9,158.9 M320.0,165.4L321.4,166.5L323.2,165.7 M335.2,172.5L336.7,174.3L339.4,173.4L341.8,173.6L343.9,171.7L345.2,168.8L348.1,168.9 M385.7,179.9L385.7,190.4" fill="none" stroke="#c4a4c8" stroke-width="0.55" opacity="0.4" stroke-linejoin="round"/>
</g>
<g font-family="Liberation Sans, Arial, sans-serif" font-weight="bold" font-size="6.4" text-anchor="middle">
<g filter="url(#bl2)">
<circle cx="13.5" cy="152.0" r="7.7" fill="#8e8e8e" fill-opacity="0.78" stroke="#8e8e8e" stroke-opacity="0.85" stroke-width="1.1"/>
<circle cx="23.8" cy="159.7" r="7.7" fill="#08d428" fill-opacity="0.78" stroke="#08d428" stroke-opacity="0.85" stroke-width="1.1"/>
<circle cx="48.2" cy="156.1" r="7.7" fill="#08d428" fill-opacity="0.78" stroke="#08d428" stroke-opacity="0.85" stroke-width="1.1"/>
<circle cx="39.9" cy="168.3" r="7.7" fill="#ffff00" fill-opacity="0.78" stroke="#ffff00" stroke-opacity="0.85" stroke-width="1.1"/>
<circle cx="35.1" cy="195.2" r="7.7" fill="#8e8e8e" fill-opacity="0.78" stroke="#8e8e8e" stroke-opacity="0.85" stroke-width="1.1"/>
<circle cx="130.9" cy="151.8" r="7.7" fill="#08d428" fill-opacity="0.78" stroke="#08d428" stroke-opacity="0.85" stroke-width="1.1"/>
<circle cx="137.0" cy="160.4" r="7.7" fill="#8e8e8e" fill-opacity="0.78" stroke="#8e8e8e" stroke-opacity="0.85" stroke-width="1.1"/>
<circle cx="146.1" cy="155.2" r="7.7" fill="#ff0000" fill-opacity="0.78" stroke="#ff0000" stroke-opacity="0.85" stroke-width="1.1"/>
<circle cx="152.6" cy="167.1" r="7.7" fill="#ffff00" fill-opacity="0.78" stroke="#ffff00" stroke-opacity="0.85" stroke-width="1.1"/>
<circle cx="156.6" cy="155.7" r="7.7" fill="#8e8e8e" fill-opacity="0.78" stroke="#8e8e8e" stroke-opacity="0.85" stroke-width="1.1"/>
<circle cx="164.5" cy="165.3" r="7.7" fill="#8e8e8e" fill-opacity="0.78" stroke="#8e8e8e" stroke-opacity="0.85" stroke-width="1.1"/>
<circle cx="171.1" cy="161.1" r="7.7" fill="#ff7e00" fill-opacity="0.78" stroke="#ff7e00" stroke-opacity="0.85" stroke-width="1.1"/>
<circle cx="174.2" cy="175.1" r="7.7" fill="#8e8e8e" fill-opacity="0.78" stroke="#8e8e8e" stroke-opacity="0.85" stroke-width="1.1"/>
<circle cx="183.2" cy="156.1" r="7.7" fill="#ff0000" fill-opacity="0.78" stroke="#ff0000" stroke-opacity="0.85" stroke-width="1.1"/>
<circle cx="183.6" cy="182.6" r="7.7" fill="#ffff00" fill-opacity="0.78" stroke="#ffff00" stroke-opacity="0.85" stroke-width="1.1"/>
<circle cx="163.9" cy="112.1" r="7.7" fill="#ffff00" fill-opacity="0.78" stroke="#ffff00" stroke-opacity="0.85" stroke-width="1.1"/>
<circle cx="193.0" cy="99.7" r="7.7" fill="#8e8e8e" fill-opacity="0.78" stroke="#8e8e8e" stroke-opacity="0.85" stroke-width="1.1"/>
<circle cx="187.5" cy="95.6" r="7.7" fill="#ff7e00" fill-opacity="0.78" stroke="#ff7e00" stroke-opacity="0.85" stroke-width="1.1"/>
<circle cx="205.4" cy="89.9" r="7.7" fill="#8e8e8e" fill-opacity="0.78" stroke="#8e8e8e" stroke-opacity="0.85" stroke-width="1.1"/>
<circle cx="216.7" cy="121.4" r="7.7" fill="#8e8e8e" fill-opacity="0.78" stroke="#8e8e8e" stroke-opacity="0.85" stroke-width="1.1"/>
<circle cx="207.1" cy="122.8" r="7.7" fill="#8e8e8e" fill-opacity="0.78" stroke="#8e8e8e" stroke-opacity="0.85" stroke-width="1.1"/>
<circle cx="239.4" cy="104.5" r="7.7" fill="#8e8e8e" fill-opacity="0.78" stroke="#8e8e8e" stroke-opacity="0.85" stroke-width="1.1"/>
<circle cx="230.6" cy="105.0" r="7.7" fill="#ff0000" fill-opacity="0.78" stroke="#ff0000" stroke-opacity="0.85" stroke-width="1.1"/>
<circle cx="252.9" cy="109.7" r="7.7" fill="#ff7e00" fill-opacity="0.78" stroke="#ff7e00" stroke-opacity="0.85" stroke-width="1.1"/>
<circle cx="230.4" cy="118.9" r="7.7" fill="#ff7e00" fill-opacity="0.78" stroke="#ff7e00" stroke-opacity="0.85" stroke-width="1.1"/>
<circle cx="236.2" cy="126.3" r="7.7" fill="#ffff00" fill-opacity="0.78" stroke="#ffff00" stroke-opacity="0.85" stroke-width="1.1"/>
<circle cx="247.9" cy="133.8" r="7.7" fill="#ff7e00" fill-opacity="0.78" stroke="#ff7e00" stroke-opacity="0.85" stroke-width="1.1"/>
<circle cx="234.1" cy="134.7" r="7.7" fill="#8e8e8e" fill-opacity="0.78" stroke="#8e8e8e" stroke-opacity="0.85" stroke-width="1.1"/>
<circle cx="241.9" cy="133.6" r="7.7" fill="#ffff00" fill-opacity="0.78" stroke="#ffff00" stroke-opacity="0.85" stroke-width="1.1"/>
<circle cx="222.0" cy="140.3" r="7.7" fill="#ffff00" fill-opacity="0.78" stroke="#ffff00" stroke-opacity="0.85" stroke-width="1.1"/>
<circle cx="211.3" cy="150.5" r="7.7" fill="#8e8e8e" fill-opacity="0.78" stroke="#8e8e8e" stroke-opacity="0.85" stroke-width="1.1"/>
<circle cx="221.3" cy="161.2" r="7.7" fill="#ffff00" fill-opacity="0.78" stroke="#ffff00" stroke-opacity="0.85" stroke-width="1.1"/>
<circle cx="211.4" cy="175.1" r="7.7" fill="#ffff00" fill-opacity="0.78" stroke="#ffff00" stroke-opacity="0.85" stroke-width="1.1"/>
<circle cx="207.3" cy="178.8" r="7.7" fill="#ffff00" fill-opacity="0.78" stroke="#ffff00" stroke-opacity="0.85" stroke-width="1.1"/>
<circle cx="218.2" cy="177.8" r="7.7" fill="#08d428" fill-opacity="0.78" stroke="#08d428" stroke-opacity="0.85" stroke-width="1.1"/>
<circle cx="235.4" cy="206.7" r="7.7" fill="#ffff00" fill-opacity="0.78" stroke="#ffff00" stroke-opacity="0.85" stroke-width="1.1"/>
<circle cx="278.9" cy="99.3" r="7.7" fill="#ff0000" fill-opacity="0.78" stroke="#ff0000" stroke-opacity="0.85" stroke-width="1.1"/>
<circle cx="282.7" cy="98.4" r="7.7" fill="#8e8e8e" fill-opacity="0.78" stroke="#8e8e8e" stroke-opacity="0.85" stroke-width="1.1"/>
<circle cx="270.3" cy="102.7" r="7.7" fill="#ffff00" fill-opacity="0.78" stroke="#ffff00" stroke-opacity="0.85" stroke-width="1.1"/>
<circle cx="269.6" cy="108.4" r="7.7" fill="#ff0000" fill-opacity="0.78" stroke="#ff0000" stroke-opacity="0.85" stroke-width="1.1"/>
<circle cx="266.7" cy="134.4" r="7.7" fill="#ffff00" fill-opacity="0.78" stroke="#ffff00" stroke-opacity="0.85" stroke-width="1.1"/>
<circle cx="274.0" cy="117.5" r="7.7" fill="#99004c" fill-opacity="0.78" stroke="#99004c" stroke-opacity="0.85" stroke-width="1.1"/>
<circle cx="276.5" cy="118.1" r="7.7" fill="#99004c" fill-opacity="0.78" stroke="#99004c" stroke-opacity="0.85" stroke-width="1.1"/>
<circle cx="278.6" cy="122.3" r="7.7" fill="#ff0000" fill-opacity="0.78" stroke="#ff0000" stroke-opacity="0.85" stroke-width="1.1"/>
<circle cx="283.1" cy="127.7" r="7.7" fill="#ff0000" fill-opacity="0.78" stroke="#ff0000" stroke-opacity="0.85" stroke-width="1.1"/>
<circle cx="304.4" cy="137.7" r="7.7" fill="#ff0000" fill-opacity="0.78" stroke="#ff0000" stroke-opacity="0.85" stroke-width="1.1"/>
<circle cx="301.1" cy="138.4" r="7.7" fill="#ff0000" fill-opacity="0.78" stroke="#ff0000" stroke-opacity="0.85" stroke-width="1.1"/>
<circle cx="296.2" cy="129.3" r="7.7" fill="#ffff00" fill-opacity="0.78" stroke="#ffff00" stroke-opacity="0.85" stroke-width="1.1"/>
<circle cx="276.2" cy="144.4" r="7.7" fill="#ff0000" fill-opacity="0.78" stroke="#ff0000" stroke-opacity="0.85" stroke-width="1.1"/>
<circle cx="285.2" cy="147.3" r="7.7" fill="#ff0000" fill-opacity="0.78" stroke="#ff0000" stroke-opacity="0.85" stroke-width="1.1"/>
<circle cx="288.1" cy="154.5" r="7.7" fill="#ff0000" fill-opacity="0.78" stroke="#ff0000" stroke-opacity="0.85" stroke-width="1.1"/>
<circle cx="287.4" cy="164.5" r="7.7" fill="#ff7e00" fill-opacity="0.78" stroke="#ff7e00" stroke-opacity="0.85" stroke-width="1.1"/>
<circle cx="313.6" cy="148.3" r="7.7" fill="#ffff00" fill-opacity="0.78" stroke="#ffff00" stroke-opacity="0.85" stroke-width="1.1"/>
<circle cx="329.2" cy="141.1" r="7.7" fill="#ff7e00" fill-opacity="0.78" stroke="#ff7e00" stroke-opacity="0.85" stroke-width="1.1"/>
<circle cx="324.0" cy="146.3" r="7.7" fill="#ff0000" fill-opacity="0.78" stroke="#ff0000" stroke-opacity="0.85" stroke-width="1.1"/>
<circle cx="341.1" cy="137.5" r="7.7" fill="#ffff00" fill-opacity="0.78" stroke="#ffff00" stroke-opacity="0.85" stroke-width="1.1"/>
<circle cx="330.6" cy="158.3" r="7.7" fill="#ffff00" fill-opacity="0.78" stroke="#ffff00" stroke-opacity="0.85" stroke-width="1.1"/>
<circle cx="322.5" cy="170.6" r="7.7" fill="#08d428" fill-opacity="0.78" stroke="#08d428" stroke-opacity="0.85" stroke-width="1.1"/>
<circle cx="330.8" cy="185.7" r="7.7" fill="#ffff00" fill-opacity="0.78" stroke="#ffff00" stroke-opacity="0.85" stroke-width="1.1"/>
<circle cx="354.3" cy="122.8" r="7.7" fill="#ffff00" fill-opacity="0.78" stroke="#ffff00" stroke-opacity="0.85" stroke-width="1.1"/>
<circle cx="330.9" cy="87.7" r="7.7" fill="#8e8e8e" fill-opacity="0.78" stroke="#8e8e8e" stroke-opacity="0.85" stroke-width="1.1"/>
<circle cx="346.2" cy="105.6" r="7.7" fill="#ffff00" fill-opacity="0.78" stroke="#ffff00" stroke-opacity="0.85" stroke-width="1.1"/>
<circle cx="357.4" cy="101.6" r="7.7" fill="#8e8e8e" fill-opacity="0.78" stroke="#8e8e8e" stroke-opacity="0.85" stroke-width="1.1"/>
</g>
<text x="13.7" y="154.2" fill="#000" stroke="#fff" stroke-width="1.9" stroke-opacity="0.8" stroke-linejoin="round" paint-order="stroke">N/A</text>
<text x="24.0" y="161.9" fill="#000" stroke="#fff" stroke-width="1.9" stroke-opacity="0.8" stroke-linejoin="round" paint-order="stroke">20</text>
<text x="48.4" y="158.3" fill="#000" stroke="#fff" stroke-width="1.9" stroke-opacity="0.8" stroke-linejoin="round" paint-order="stroke">13</text>
<text x="40.1" y="170.5" fill="#000" stroke="#fff" stroke-width="1.9" stroke-opacity="0.8" stroke-linejoin="round" paint-order="stroke">63</text>
<text x="35.3" y="197.4" fill="#000" stroke="#fff" stroke-width="1.9" stroke-opacity="0.8" stroke-linejoin="round" paint-order="stroke">N/A</text>
<text x="131.1" y="154.0" fill="#000" stroke="#fff" stroke-width="1.9" stroke-opacity="0.8" stroke-linejoin="round" paint-order="stroke">45</text>
<text x="137.2" y="162.6" fill="#000" stroke="#fff" stroke-width="1.9" stroke-opacity="0.8" stroke-linejoin="round" paint-order="stroke">N/A</text>
<text x="146.3" y="157.4" fill="#000" stroke="#fff" stroke-width="1.9" stroke-opacity="0.8" stroke-linejoin="round" paint-order="stroke">165</text>
<text x="152.8" y="169.3" fill="#000" stroke="#fff" stroke-width="1.9" stroke-opacity="0.8" stroke-linejoin="round" paint-order="stroke">78</text>
<text x="156.8" y="157.9" fill="#000" stroke="#fff" stroke-width="1.9" stroke-opacity="0.8" stroke-linejoin="round" paint-order="stroke">N/A</text>
<text x="164.7" y="167.5" fill="#000" stroke="#fff" stroke-width="1.9" stroke-opacity="0.8" stroke-linejoin="round" paint-order="stroke">N/A</text>
<text x="171.3" y="163.3" fill="#000" stroke="#fff" stroke-width="1.9" stroke-opacity="0.8" stroke-linejoin="round" paint-order="stroke">125</text>
<text x="174.4" y="177.3" fill="#000" stroke="#fff" stroke-width="1.9" stroke-opacity="0.8" stroke-linejoin="round" paint-order="stroke">N/A</text>
<text x="183.4" y="158.3" fill="#000" stroke="#fff" stroke-width="1.9" stroke-opacity="0.8" stroke-linejoin="round" paint-order="stroke">163</text>
<text x="183.8" y="184.8" fill="#000" stroke="#fff" stroke-width="1.9" stroke-opacity="0.8" stroke-linejoin="round" paint-order="stroke">69</text>
<text x="164.1" y="114.3" fill="#000" stroke="#fff" stroke-width="1.9" stroke-opacity="0.8" stroke-linejoin="round" paint-order="stroke">64</text>
<text x="193.2" y="101.9" fill="#000" stroke="#fff" stroke-width="1.9" stroke-opacity="0.8" stroke-linejoin="round" paint-order="stroke">N/A</text>
<text x="187.7" y="97.8" fill="#000" stroke="#fff" stroke-width="1.9" stroke-opacity="0.8" stroke-linejoin="round" paint-order="stroke">106</text>
<text x="205.6" y="92.1" fill="#000" stroke="#fff" stroke-width="1.9" stroke-opacity="0.8" stroke-linejoin="round" paint-order="stroke">N/A</text>
<text x="216.9" y="123.6" fill="#000" stroke="#fff" stroke-width="1.9" stroke-opacity="0.8" stroke-linejoin="round" paint-order="stroke">N/A</text>
<text x="207.3" y="125.0" fill="#000" stroke="#fff" stroke-width="1.9" stroke-opacity="0.8" stroke-linejoin="round" paint-order="stroke">N/A</text>
<text x="239.6" y="106.7" fill="#000" stroke="#fff" stroke-width="1.9" stroke-opacity="0.8" stroke-linejoin="round" paint-order="stroke">N/A</text>
<text x="230.8" y="107.2" fill="#000" stroke="#fff" stroke-width="1.9" stroke-opacity="0.8" stroke-linejoin="round" paint-order="stroke">157</text>
<text x="253.1" y="111.9" fill="#000" stroke="#fff" stroke-width="1.9" stroke-opacity="0.8" stroke-linejoin="round" paint-order="stroke">137</text>
<text x="230.6" y="121.1" fill="#000" stroke="#fff" stroke-width="1.9" stroke-opacity="0.8" stroke-linejoin="round" paint-order="stroke">132</text>
<text x="236.4" y="128.5" fill="#000" stroke="#fff" stroke-width="1.9" stroke-opacity="0.8" stroke-linejoin="round" paint-order="stroke">79</text>
<text x="248.1" y="136.0" fill="#000" stroke="#fff" stroke-width="1.9" stroke-opacity="0.8" stroke-linejoin="round" paint-order="stroke">114</text>
<text x="234.3" y="136.9" fill="#000" stroke="#fff" stroke-width="1.9" stroke-opacity="0.8" stroke-linejoin="round" paint-order="stroke">N/A</text>
<text x="242.1" y="135.8" fill="#000" stroke="#fff" stroke-width="1.9" stroke-opacity="0.8" stroke-linejoin="round" paint-order="stroke">60</text>
<text x="222.2" y="142.5" fill="#000" stroke="#fff" stroke-width="1.9" stroke-opacity="0.8" stroke-linejoin="round" paint-order="stroke">54</text>
<text x="211.5" y="152.7" fill="#000" stroke="#fff" stroke-width="1.9" stroke-opacity="0.8" stroke-linejoin="round" paint-order="stroke">N/A</text>
<text x="221.5" y="163.4" fill="#000" stroke="#fff" stroke-width="1.9" stroke-opacity="0.8" stroke-linejoin="round" paint-order="stroke">157</text>
<text x="211.6" y="177.3" fill="#000" stroke="#fff" stroke-width="1.9" stroke-opacity="0.8" stroke-linejoin="round" paint-order="stroke">100</text>
<text x="207.5" y="181.0" fill="#000" stroke="#fff" stroke-width="1.9" stroke-opacity="0.8" stroke-linejoin="round" paint-order="stroke">73</text>
<text x="218.4" y="180.0" fill="#000" stroke="#fff" stroke-width="1.9" stroke-opacity="0.8" stroke-linejoin="round" paint-order="stroke">30</text>
<text x="235.6" y="208.9" fill="#000" stroke="#fff" stroke-width="1.9" stroke-opacity="0.8" stroke-linejoin="round" paint-order="stroke">57</text>
<text x="279.1" y="101.5" fill="#000" stroke="#fff" stroke-width="1.9" stroke-opacity="0.8" stroke-linejoin="round" paint-order="stroke">157</text>
<text x="282.9" y="100.6" fill="#000" stroke="#fff" stroke-width="1.9" stroke-opacity="0.8" stroke-linejoin="round" paint-order="stroke">N/A</text>
<text x="270.5" y="104.9" fill="#000" stroke="#fff" stroke-width="1.9" stroke-opacity="0.8" stroke-linejoin="round" paint-order="stroke">89</text>
<text x="269.8" y="110.6" fill="#000" stroke="#fff" stroke-width="1.9" stroke-opacity="0.8" stroke-linejoin="round" paint-order="stroke">171</text>
<text x="266.9" y="136.6" fill="#000" stroke="#fff" stroke-width="1.9" stroke-opacity="0.8" stroke-linejoin="round" paint-order="stroke">85</text>
<text x="274.2" y="119.7" fill="#000" stroke="#fff" stroke-width="1.9" stroke-opacity="0.8" stroke-linejoin="round" paint-order="stroke">275</text>
<text x="276.7" y="120.3" fill="#000" stroke="#fff" stroke-width="1.9" stroke-opacity="0.8" stroke-linejoin="round" paint-order="stroke">239</text>
<text x="278.8" y="124.5" fill="#000" stroke="#fff" stroke-width="1.9" stroke-opacity="0.8" stroke-linejoin="round" paint-order="stroke">174</text>
<text x="283.3" y="129.9" fill="#000" stroke="#fff" stroke-width="1.9" stroke-opacity="0.8" stroke-linejoin="round" paint-order="stroke">166</text>
<text x="304.6" y="139.9" fill="#000" stroke="#fff" stroke-width="1.9" stroke-opacity="0.8" stroke-linejoin="round" paint-order="stroke">187</text>
<text x="301.3" y="140.6" fill="#000" stroke="#fff" stroke-width="1.9" stroke-opacity="0.8" stroke-linejoin="round" paint-order="stroke">188</text>
<text x="296.4" y="131.5" fill="#000" stroke="#fff" stroke-width="1.9" stroke-opacity="0.8" stroke-linejoin="round" paint-order="stroke">85</text>
<text x="276.4" y="146.6" fill="#000" stroke="#fff" stroke-width="1.9" stroke-opacity="0.8" stroke-linejoin="round" paint-order="stroke">173</text>
<text x="285.4" y="149.5" fill="#000" stroke="#fff" stroke-width="1.9" stroke-opacity="0.8" stroke-linejoin="round" paint-order="stroke">154</text>
<text x="288.3" y="156.7" fill="#000" stroke="#fff" stroke-width="1.9" stroke-opacity="0.8" stroke-linejoin="round" paint-order="stroke">171</text>
<text x="287.6" y="166.7" fill="#000" stroke="#fff" stroke-width="1.9" stroke-opacity="0.8" stroke-linejoin="round" paint-order="stroke">106</text>
<text x="313.8" y="150.5" fill="#000" stroke="#fff" stroke-width="1.9" stroke-opacity="0.8" stroke-linejoin="round" paint-order="stroke">57</text>
<text x="329.4" y="143.3" fill="#000" stroke="#fff" stroke-width="1.9" stroke-opacity="0.8" stroke-linejoin="round" paint-order="stroke">141</text>
<text x="324.2" y="148.5" fill="#000" stroke="#fff" stroke-width="1.9" stroke-opacity="0.8" stroke-linejoin="round" paint-order="stroke">174</text>
<text x="341.3" y="139.7" fill="#000" stroke="#fff" stroke-width="1.9" stroke-opacity="0.8" stroke-linejoin="round" paint-order="stroke">70</text>
<text x="330.8" y="160.5" fill="#000" stroke="#fff" stroke-width="1.9" stroke-opacity="0.8" stroke-linejoin="round" paint-order="stroke">63</text>
<text x="322.7" y="172.8" fill="#000" stroke="#fff" stroke-width="1.9" stroke-opacity="0.8" stroke-linejoin="round" paint-order="stroke">21</text>
<text x="331.0" y="187.9" fill="#000" stroke="#fff" stroke-width="1.9" stroke-opacity="0.8" stroke-linejoin="round" paint-order="stroke">70</text>
<text x="354.5" y="125.0" fill="#000" stroke="#fff" stroke-width="1.9" stroke-opacity="0.8" stroke-linejoin="round" paint-order="stroke">70</text>
<text x="331.1" y="89.9" fill="#000" stroke="#fff" stroke-width="1.9" stroke-opacity="0.8" stroke-linejoin="round" paint-order="stroke">N/A</text>
<text x="346.4" y="107.8" fill="#000" stroke="#fff" stroke-width="1.9" stroke-opacity="0.8" stroke-linejoin="round" paint-order="stroke">92</text>
<text x="357.6" y="103.8" fill="#000" stroke="#fff" stroke-width="1.9" stroke-opacity="0.8" stroke-linejoin="round" paint-order="stroke">N/A</text>
</g>
</svg><div id="pop"><div class="pt"></div><div class="pb">
<i class="cur"></i><span class="p1">Bishkek</span><span class="p2">2022-12-08 7:00 PM</span><span class="p3">(LT)</span>
<div class="tb"><div class="th0 blue"></div><div class="th1">Pollutant</div><div class="th2">AQI</div><div class="td1">PM2.5</div><div class="td2">157</div></div>
</div></div></div>
<div class="sh blue" style="top:5.2px">Select a City</div>
<div class="sel" style="top:84.8px">Bishkek<span class="x">X</span><span class="c"></span></div>
<div class="sh blue" style="top:219.2px">Select a Parameter</div>
<div class="sel" style="top:298.8px">PM2.5<span class="x">X</span><span class="c"></span></div>
<div id="city"><span class="n">Bishkek</span><svg class="rss" width="78" height="78" viewBox="0 0 24 24">
<rect width="24" height="24" fill="#eeb33f"/>
<circle cx="6.3" cy="17.7" r="2.5" fill="#fff"/>
<path d="M3.8,10.2a10,10 0 0 1 10,10" fill="none" stroke="#fff" stroke-width="3.2"/>
<path d="M3.8,4.2a16,16 0 0 1 16,16" fill="none" stroke="#fff" stroke-width="3.2"/>
</svg></div>
<div id="note">Note: Values above 500 are considered Beyond the AQI. Follow
recommendations for the Hazardous category. Additional
information on reducing exposure to extremely high levels of particle
pollution is available <a class="l">here</a>.</div>
<div class="tab" id="t1">AQI</div><div class="tab" id="t2">Concentration</div><div class="tab" id="t3">Historical</div>
<div id="tl"></div>
<div id="learn">Learn more about how the Air Quality Index [AQI] is calculated from the EPA <a>here</a>.</div>
<svg class="chart" width="1792" height="760" viewBox="11 312.2 448 190" font-family="DejaVu Sans, Verdana, sans-serif">
<rect x="11" y="312.2" width="448" height="190" fill="#fff"/>
<text x="234.8" y="325.9" text-anchor="middle" font-size="9.9" fill="#333">Bishkek – PM2.5</text>
<path d="M53.0,450.00H453.2" stroke="#e6e6e6" stroke-width="0.6"/>
<text x="44.3" y="453.00" text-anchor="end" font-size="6.2" fill="#444">0</text>
<path d="M53.0,429.38H453.2" stroke="#e6e6e6" stroke-width="0.6"/>
<text x="44.3" y="432.38" text-anchor="end" font-size="6.2" fill="#444">100</text>
<path d="M53.0,408.76H453.2" stroke="#e6e6e6" stroke-width="0.6"/>
<text x="44.3" y="411.76" text-anchor="end" font-size="6.2" fill="#444">200</text>
<path d="M53.0,388.14H453.2" stroke="#e6e6e6" stroke-width="0.6"/>
<text x="44.3" y="391.14" text-anchor="end" font-size="6.2" fill="#444">300</text>
<path d="M53.0,367.52H453.2" stroke="#e6e6e6" stroke-width="0.6"/>
<text x="44.3" y="370.52" text-anchor="end" font-size="6.2" fill="#444">400</text>
<path d="M53.0,346.90H453.2" stroke="#e6e6e6" stroke-width="0.6"/>
<text x="44.3" y="349.90" text-anchor="end" font-size="6.2" fill="#444">500</text>
<text transform="translate(26.8,396.6) rotate(-90)" text-anchor="middle" font-size="6.6" fill="#444">AQI</text>
<rect x="56.89" y="387.0" width="8.9" height="63.7" fill="#4c0026" stroke="#2e0017" stroke-width="0.6"/>
<rect x="73.56" y="376.1" width="8.9" height="74.6" fill="#4c0026" stroke="#2e0017" stroke-width="0.6"/>
<rect x="90.24" y="377.8" width="8.9" height="72.9" fill="#4c0026" stroke="#2e0017" stroke-width="0.6"/>
<rect x="106.91" y="382.7" width="8.9" height="68.0" fill="#4c0026" stroke="#2e0017" stroke-width="0.6"/>
<rect x="123.59" y="388.0" width="8.9" height="62.7" fill="#4c0026" stroke="#2e0017" stroke-width="0.6"/>
<rect x="140.26" y="389.4" width="8.9" height="61.3" fill="#99004c" stroke="#6a0035" stroke-width="0.6"/>
<rect x="156.94" y="394.1" width="8.9" height="56.6" fill="#99004c" stroke="#6a0035" stroke-width="0.6"/>
<rect x="173.61" y="397.8" width="8.9" height="52.9" fill="#99004c" stroke="#6a0035" stroke-width="0.6"/>
<rect x="190.29" y="399.6" width="8.9" height="51.1" fill="#99004c" stroke="#6a0035" stroke-width="0.6"/>
<rect x="206.96" y="402.9" width="8.9" height="47.8" fill="#99004c" stroke="#6a0035" stroke-width="0.6"/>
<rect x="223.64" y="408.4" width="8.9" height="42.3" fill="#99004c" stroke="#6a0035" stroke-width="0.6"/>
<rect x="240.31" y="413.3" width="8.9" height="37.4" fill="#ff0000" stroke="#b80000" stroke-width="0.6"/>
<rect x="256.99" y="414.9" width="8.9" height="35.8" fill="#ff0000" stroke="#b80000" stroke-width="0.6"/>
<rect x="273.66" y="415.3" width="8.9" height="35.4" fill="#ff0000" stroke="#b80000" stroke-width="0.6"/>
<rect x="290.34" y="415.3" width="8.9" height="35.4" fill="#ff0000" stroke="#b80000" stroke-width="0.6"/>
<rect x="307.01" y="416.4" width="8.9" height="34.3" fill="#ff0000" stroke="#b80000" stroke-width="0.6"/>
<rect x="323.69" y="418.2" width="8.9" height="32.5" fill="#ff0000" stroke="#b80000" stroke-width="0.6"/>
<rect x="340.36" y="417.6" width="8.9" height="33.1" fill="#ff0000" stroke="#b80000" stroke-width="0.6"/>
<rect x="357.04" y="419.3" width="8.9" height="31.4" fill="#ff0000" stroke="#b80000" stroke-width="0.6"/>
<rect x="373.71" y="416.4" width="8.9" height="34.3" fill="#ff0000" stroke="#b80000" stroke-width="0.6"/>
<rect x="390.39" y="414.3" width="8.9" height="36.4" fill="#ff0000" stroke="#b80000" stroke-width="0.6"/>
<rect x="407.06" y="416.0" width="8.9" height="34.7" fill="#ff0000" stroke="#b80000" stroke-width="0.6"/>
<rect x="423.74" y="418.2" width="8.9" height="32.5" fill="#ff0000" stroke="#b80000" stroke-width="0.6"/>
<rect x="440.41" y="418.6" width="8.9" height="32.1" fill="#ff0000" stroke="#b80000" stroke-width="0.6"/>
<path d="M53.0,450.9H453.2" stroke="#ccd6eb" stroke-width="0.6"/>
<path d="M53.00,450.9v5.2M69.67,450.9v5.2M86.35,450.9v5.2M103.03,450.9v5.2M119.70,450.9v5.2M136.38,450.9v5.2M153.05,450.9v5.2M169.73,450.9v5.2M186.40,450.9v5.2M203.08,450.9v5.2M219.75,450.9v5.2M236.43,450.9v5.2M253.10,450.9v5.2M269.77,450.9v5.2M286.45,450.9v5.2M303.12,450.9v5.2M319.80,450.9v5.2M336.48,450.9v5.2M353.15,450.9v5.2M369.82,450.9v5.2M386.50,450.9v5.2M403.18,450.9v5.2M419.85,450.9v5.2M436.53,450.9v5.2M453.20,450.9v5.2" stroke="#ccd6eb" stroke-width="0.6"/>
<text transform="translate(63.14,460.4) rotate(-45)" text-anchor="end" font-size="6.2" fill="#555">8 PM</text>
<text transform="translate(79.81,460.4) rotate(-45)" text-anchor="end" font-size="6.2" fill="#555">9 PM</text>
<text transform="translate(96.49,460.4) rotate(-45)" text-anchor="end" font-size="6.2" fill="#555">10 PM</text>
<text transform="translate(113.16,460.4) rotate(-45)" text-anchor="end" font-size="6.2" fill="#555">11 PM</text>
<text transform="translate(129.84,460.4) rotate(-45)" text-anchor="end" font-size="6.2" fill="#555">Dec 08, 2022 12 AM</text>
<text transform="translate(146.51,460.4) rotate(-45)" text-anchor="end" font-size="6.2" fill="#555">1 AM</text>
<text transform="translate(163.19,460.4) rotate(-45)" text-anchor="end" font-size="6.2" fill="#555">2 AM</text>
<text transform="translate(179.86,460.4) rotate(-45)" text-anchor="end" font-size="6.2" fill="#555">3 AM</text>
<text transform="translate(196.54,460.4) rotate(-45)" text-anchor="end" font-size="6.2" fill="#555">4 AM</text>
<text transform="translate(213.21,460.4) rotate(-45)" text-anchor="end" font-size="6.2" fill="#555">5 AM</text>
<text transform="translate(229.89,460.4) rotate(-45)" text-anchor="end" font-size="6.2" fill="#555">6 AM</text>
<text transform="translate(246.56,460.4) rotate(-45)" text-anchor="end" font-size="6.2" fill="#555">7 AM</text>
<text transform="translate(263.24,460.4) rotate(-45)" text-anchor="end" font-size="6.2" fill="#555">8 AM</text>
<text transform="translate(279.91,460.4) rotate(-45)" text-anchor="end" font-size="6.2" fill="#555">9 AM</text>
<text transform="translate(296.59,460.4) rotate(-45)" text-anchor="end" font-size="6.2" fill="#555">10 AM</text>
<text transform="translate(313.26,460.4) rotate(-45)" text-anchor="end" font-size="6.2" fill="#555">11 AM</text>
<text transform="translate(329.94,460.4) rotate(-45)" text-anchor="end" font-size="6.2" fill="#555">12 PM</text>
<text transform="translate(346.61,460.4) rotate(-45)" text-anchor="end" font-size="6.2" fill="#555">1 PM</text>
<text transform="translate(363.29,460.4) rotate(-45)" text-anchor="end" font-size="6.2" fill="#555">2 PM</text>
<text transform="translate(379.96,460.4) rotate(-45)" text-anchor="end" font-size="6.2" fill="#555">3 PM</text>
<text transform="translate(396.64,460.4) rotate(-45)" text-anchor="end" font-size="6.2" fill="#555">4 PM</text>
<text transform="translate(413.31,460.4) rotate(-45)" text-anchor="end" font-size="6.2" fill="#555">5 PM</text>
<text transform="translate(429.99,460.4) rotate(-45)" text-anchor="end" font-size="6.2" fill="#555">6 PM</text>
<text transform="translate(446.66,460.4) rotate(-45)" text-anchor="end" font-size="6.2" fill="#555">7 PM</text>
</svg>
<div id="cc"><div class="h blue"><span style="top:15.2px;font-size:33.92px;line-height:40px">Current Conditions</span><span style="top:67.2px;font-size:27.12px;line-height:36px">observed at</span><span style="top:112px;font-size:33.92px;line-height:40px">Dec 8, 2022 7:00 PM (LT)</span></div>
<div class="r"><span style="top:32.8px">157 AQI</span><span style="top:99.6px">Unhealthy</span><span style="top:159.2px">PM2.5</span></div>
<div class="hm">Health Message</div>
<div class="tx">Everyone may begin to experience health
effects when AQI values are between 151
and 200. Members of sensitive groups may
experience more serious health effects.</div></div>
<div id="note2">Note: Values above 500 are considered Beyond</div>
</div></div></body></html>
